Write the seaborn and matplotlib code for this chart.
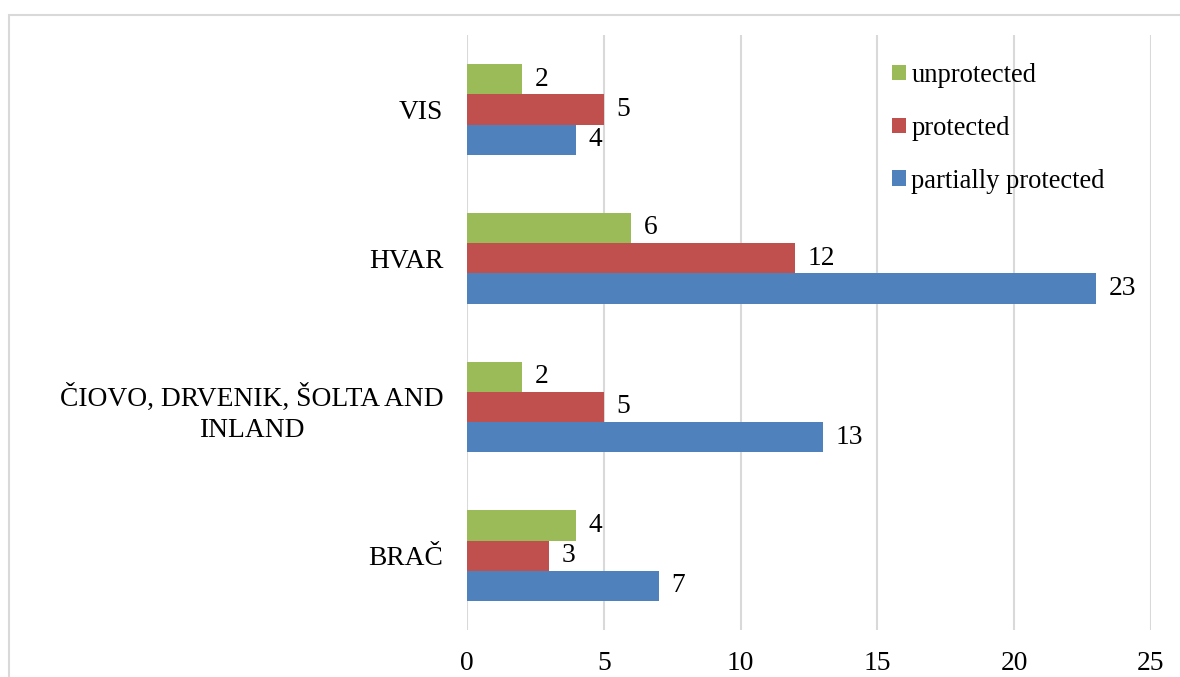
import seaborn as sns
import pandas as pd
import matplotlib.pyplot as plt
from matplotlib.patches import Rectangle

# Data
islands = ['VIS', 'HVAR', 'ČIOVO, DRVENIK, ŠOLTA AND\nINLAND', 'BRAČ']
statuses = ['unprotected', 'protected', 'partially protected']
unprotected = [2, 6, 2, 4]
protected = [5, 12, 5, 3]
partially_protected = [4, 23, 13, 7]

status_colors = {
    'unprotected': '#9BBB59',
    'protected': '#C0504D',
    'partially protected': '#4F81BD',
}

rows = []
for status, values in zip(statuses, [unprotected, protected, partially_protected]):
    for island, v in zip(islands, values):
        rows.append({'island': island, 'status': status, 'count': v})
df = pd.DataFrame(rows)

sns.set_style("white")
plt.rcParams['font.family'] = ['Liberation Serif', 'DejaVu Serif']
plt.rcParams['text.color'] = 'black'
plt.rcParams['xtick.color'] = 'black'
plt.rcParams['ytick.color'] = 'black'
fs = 19.8

fig = plt.figure(figsize=(11.8, 6.77), dpi=100)
ax = fig.add_axes([0.3958, 0.0694, 0.5796, 0.8789])

sns.barplot(data=df, x='count', y='island', hue='status', order=islands,
            hue_order=statuses, palette=status_colors, orient='h',
            width=0.61, saturation=1, linewidth=0, ax=ax)

for cont in ax.containers:
    ax.bar_label(cont, padding=9, fontsize=fs, color='black')

ax.set_xlim(0, 25)
ax.set_ylim(3.5, -0.5)
ax.set_xticks(range(0, 26, 5))
ax.set_xlabel('')
ax.set_ylabel('')
ax.grid(axis='x', color='#D9D9D9', linewidth=1.5)
ax.set_axisbelow(True)
for s in ax.spines.values():
    s.set_visible(False)
ax.tick_params(axis='both', length=0, labelsize=fs, labelcolor='black')
ax.tick_params(axis='x', pad=15)
ax.tick_params(axis='y', pad=17)
for t in ax.get_yticklabels():
    t.set_multialignment('center')
    t.set_linespacing(1.32)

ax.legend(loc='upper left', bbox_to_anchor=(0.621, 0.953), frameon=False,
          fontsize=19.1, handlelength=0.54, handleheight=0.54,
          handletextpad=0.2, labelspacing=1.05, borderpad=0, borderaxespad=0)

# light frame around the chart area
fig.patches.append(Rectangle((9 / 1180, -0.1), 1.2, 1 - 15 / 677 + 0.1,
                             transform=fig.transFigure, fill=False,
                             edgecolor='#D9D9D9', linewidth=1.5))

plt.savefig('out.png', dpi=100)
